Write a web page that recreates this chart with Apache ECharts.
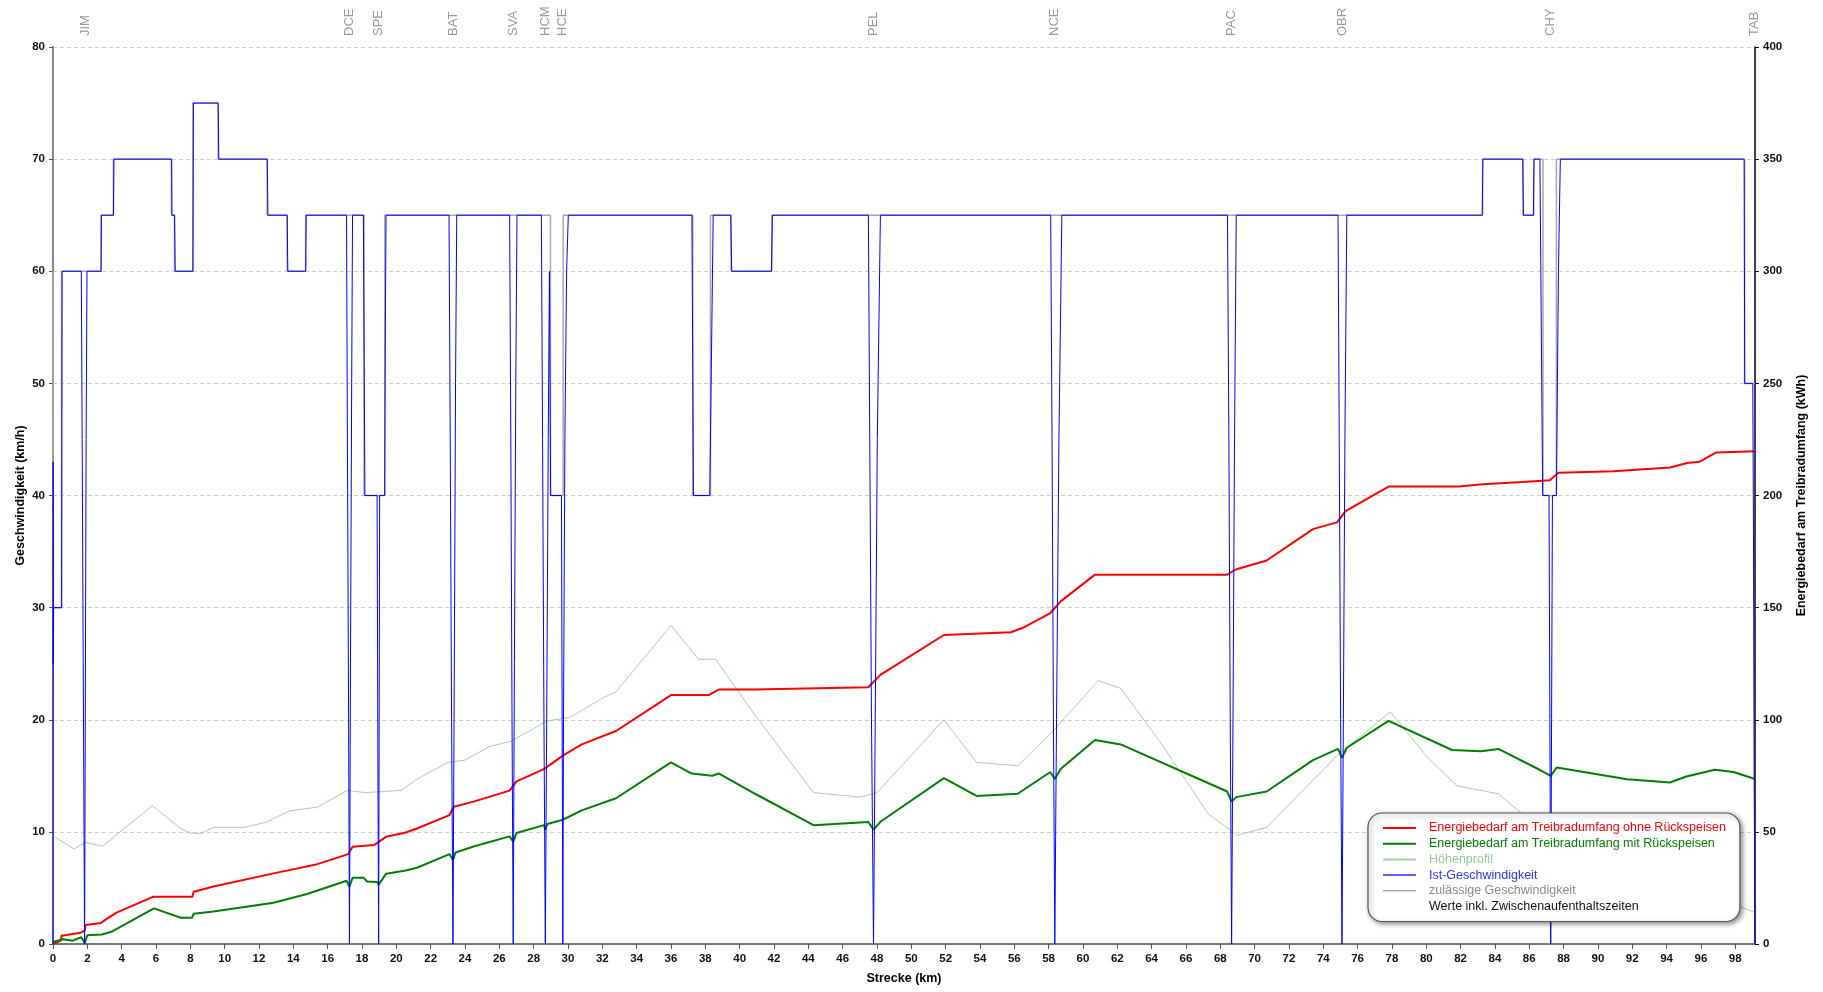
<!DOCTYPE html>
<html>
<head>
<meta charset="utf-8">
<script src="https://cdn.jsdelivr.net/npm/echarts@6/dist/echarts.min.js"></script>
<style>
  html, body { margin: 0; padding: 0; background: #fff; }
  #chart { width: 1823px; height: 992px; }
</style>
</head>
<body>
<div id="chart"></div>
<script>
// ---- Data (km, value) ----
const stationKm = [1.88, 17.27, 18.97, 23.3, 26.81, 28.68, 29.7, 47.8, 58.36, 68.66, 75.09, 87.25, 99.13];
const stationNames = ['JIM', 'DCE', 'SPE', 'BAT', 'SVA', 'HCM', 'HCE', 'PEL', 'NCE', 'PAC', 'OBR', 'CHY', 'TAB'];

const xTicksMax = 99.15;

// Ist-Geschwindigkeit (km/h)
const istGeschwindigkeit = [
  [0, 0], [0.01, 43], [0.02, 25], [0.04, 30], [0.5, 30], [0.53, 60],
  [1.65, 60], [1.70, 45], [1.76, 25], [1.84, 0], [1.88, 20], [1.93, 45], [1.98, 60],
  [2.8, 60], [2.82, 65], [3.52, 65], [3.55, 70], [6.91, 70], [6.93, 65], [7.08, 65], [7.12, 60],
  [8.15, 60], [8.18, 75], [9.62, 75], [9.66, 70], [12.48, 70], [12.52, 65], [13.64, 65], [13.68, 60],
  [14.72, 60], [14.75, 65],
  [17.1, 65], [17.15, 45], [17.22, 20], [17.27, 0], [17.33, 25], [17.4, 50], [17.45, 65],
  [18.08, 65], [18.17, 40], [18.88, 40], [18.93, 15], [18.97, 0], [19.0, 20], [19.03, 40],
  [19.32, 40], [19.36, 55], [19.4, 65],
  [23.07, 65], [23.14, 45], [23.22, 20], [23.3, 0], [23.38, 25], [23.45, 50], [23.52, 65],
  [26.6, 65], [26.67, 45], [26.74, 20], [26.81, 0], [26.88, 25], [26.96, 50], [27.03, 65],
  [28.45, 65], [28.52, 45], [28.6, 20], [28.68, 0], [28.76, 20], [28.85, 45], [28.92, 60], [28.99, 40],
  [29.62, 40], [29.66, 20], [29.7, 0], [29.74, 20], [29.82, 45], [29.92, 60], [30.02, 65],
  [37.22, 65], [37.31, 40], [38.26, 40], [38.46, 65], [39.48, 65], [39.54, 60], [41.85, 60], [41.91, 65],
  [47.5, 65], [47.58, 45], [47.68, 20], [47.8, 0], [47.9, 20], [48.02, 45], [48.2, 65],
  [58.12, 65], [58.2, 45], [58.28, 20], [58.36, 0], [58.46, 20], [58.6, 45], [58.77, 65],
  [68.42, 65], [68.5, 45], [68.58, 20], [68.66, 0], [68.74, 20], [68.83, 45], [68.93, 65],
  [74.86, 65], [74.93, 45], [75.01, 20], [75.09, 0], [75.17, 20], [75.26, 45], [75.37, 65],
  [83.26, 65], [83.3, 70], [85.62, 70], [85.66, 65], [86.24, 65], [86.28, 70], [86.62, 70], [86.7, 55], [86.78, 40],
  [87.15, 40], [87.2, 20], [87.25, 0], [87.3, 20], [87.35, 40], [87.58, 40], [87.7, 60], [87.81, 70],
  [98.52, 70], [98.55, 50], [99.02, 50], [99.06, 37], [99.1, 15], [99.15, 0]
];

// zulässige Geschwindigkeit (km/h)
const zulaessigeGeschwindigkeit = [
  [0, 60], [0.02, 60], [0.02, 30], [0.5, 30], [0.5, 60], [2.8, 60], [2.8, 65], [3.52, 65], [3.52, 70],
  [6.9, 70], [6.9, 65], [7.08, 65], [7.08, 60], [8.15, 60], [8.15, 75], [9.62, 75], [9.62, 70],
  [12.48, 70], [12.48, 65], [13.64, 65], [13.64, 60], [14.72, 60], [14.72, 65], [18.12, 65], [18.12, 40],
  [19.33, 40], [19.33, 65], [28.98, 65], [28.98, 40], [29.72, 40], [29.72, 65], [37.27, 65], [37.27, 40],
  [38.3, 40], [38.3, 65], [39.5, 65], [39.5, 60], [41.88, 60], [41.88, 65], [83.28, 65], [83.28, 70],
  [85.64, 70], [85.64, 65], [86.26, 65], [86.26, 70], [86.8, 70], [86.8, 40], [87.58, 40], [87.58, 70],
  [98.54, 70], [98.54, 50], [99.15, 50]
];

// Energiebedarf ohne Rückspeisen (kWh)
const energieOhneRueckspeisen = [
  [0, 0], [0.45, 1.5], [0.5, 3.7], [1.6, 5], [1.85, 6], [1.9, 8.5], [2.8, 9.4], [3.0, 10.5], [3.7, 14],
  [5.85, 21.1], [8.12, 21.1], [8.2, 23.3], [9.35, 25.6], [12.85, 31.5], [15.4, 35.6], [17.2, 40.1],
  [17.45, 43.4], [18.7, 44.1], [19.4, 47.8], [20.55, 49.7], [21.2, 51.5], [23.1, 57.5], [23.35, 61.2],
  [24.5, 63.5], [26.6, 68.4], [27.0, 72.5], [28.6, 78], [29.7, 84], [30.8, 89], [32.8, 95], [36.0, 111],
  [38.2, 111], [38.8, 113.5], [40.9, 113.5], [47.5, 114.5], [48.2, 120], [51.9, 137.8], [55.8, 139],
  [56.5, 141], [58.1, 147.6], [58.7, 152.8], [60.7, 164.7], [68.4, 164.7], [68.9, 167], [70.7, 171],
  [73.4, 185], [74.8, 188], [75.3, 193], [77.8, 204], [81.9, 204], [83.28, 205], [85.6, 206],
  [87.2, 206.8], [87.7, 210.2], [90.9, 210.8], [94.2, 212.5], [95.2, 214.5], [95.9, 215],
  [96.9, 219.2], [99.15, 219.7]
];

// Energiebedarf mit Rückspeisen (kWh)
const energieMitRueckspeisen = [
  [0, 0], [0.05, 1], [0.55, 2.1], [1.15, 1.5], [1.65, 3], [1.85, 0.4], [2.0, 3.9], [2.85, 4.2], [3.45, 5.6],
  [5.88, 15.9], [7.44, 11.7], [8.1, 11.7], [8.2, 13.5], [9.35, 14.5], [12.85, 18.4], [14.8, 22.3],
  [17.1, 28.2], [17.27, 25.6], [17.45, 29.5], [18.1, 29.5], [18.3, 27.9], [18.9, 27.6], [18.97, 26.5],
  [19.4, 31.3], [20.55, 32.8], [21.2, 34], [23.1, 40.1], [23.3, 37.4], [23.45, 40.8], [24.5, 43.5],
  [26.6, 48], [26.81, 45.6], [27.0, 49.5], [28.6, 53], [28.68, 51], [28.8, 53.5], [29.7, 55.4],
  [30.8, 59.6], [32.8, 65], [36.0, 81], [37.2, 76], [38.4, 75], [38.8, 76], [40.9, 67], [44.3, 53],
  [47.5, 54.4], [47.8, 51], [48.2, 54.5], [51.9, 74], [53.8, 66], [56.2, 67], [58.1, 76.7], [58.36, 73.6],
  [58.7, 78], [60.7, 91], [62.2, 89], [68.4, 68], [68.66, 63.5], [68.93, 65.5], [70.7, 68], [73.4, 82],
  [74.86, 87], [75.09, 83], [75.37, 87.5], [77.8, 99.5], [81.5, 86.5], [83.2, 86], [84.2, 87],
  [86.6, 77.7], [87.25, 75], [87.6, 78.7], [91.7, 73.5], [94.2, 72], [95.1, 74.6], [96.8, 77.7],
  [97.9, 76.7], [99.15, 73.6]
];

// Höhenprofil (in left-axis units)
const hoehenprofil = [
  [0, 9.65], [1.22, 8.47], [1.9, 9.06], [2.88, 8.73], [5.79, 12.33], [7.44, 10.3], [8.0, 9.9], [8.64, 9.86],
  [9.35, 10.4], [11.12, 10.4], [12.4, 10.85], [13.8, 11.88], [15.4, 12.2], [17.15, 13.7], [18.2, 13.5],
  [19.3, 13.6], [20.3, 13.7], [21.2, 14.7], [23.0, 16.2], [24.0, 16.4], [25.4, 17.6], [26.7, 18.1],
  [28.8, 19.9], [30.1, 20.2], [32.1, 22], [32.8, 22.5], [36.0, 28.4], [37.6, 25.4], [38.6, 25.4],
  [40.9, 20.4], [44.3, 13.5], [47.0, 13.1], [48.0, 13.5], [51.9, 20], [53.8, 16.2], [56.2, 15.9],
  [58.2, 18.9], [60.9, 23.5], [62.2, 22.8], [64.6, 17.8], [67.3, 11.6], [69.0, 9.7], [70.7, 10.4],
  [74.8, 16.8], [77.9, 20.7], [80.1, 16.6], [81.8, 14.1], [84.2, 13.4], [85.6, 11.6], [87.6, 8.7],
  [90.3, 7.3], [93.0, 4.5], [94.5, 2.0], [96.5, 2.8], [98.0, 3.5], [99.15, 2.8]
];

const FONT = '"Liberation Sans", Arial, sans-serif';

const chart = echarts.init(document.getElementById('chart'), null, { renderer: 'canvas' });

const stationData = stationKm.map((k, i) => ({ value: [k, 80], name: stationNames[i] }));

const legendNames = [
  'Energiebedarf am Treibradumfang ohne Rückspeisen',
  'Energiebedarf am Treibradumfang mit Rückspeisen',
  'Höhenprofil',
  'Ist-Geschwindigkeit',
  'zulässige Geschwindigkeit',
  'Werte inkl. Zwischenaufenthaltszeiten'
];

const option = {
  animation: false,
  backgroundColor: '#fff',
  grid: { left: 53, right: 68, top: 47, bottom: 48, containLabel: false },
  xAxis: {
    type: 'value', min: 0, max: xTicksMax, interval: 2,
    name: 'Strecke (km)', nameLocation: 'middle', nameGap: 28,
    nameTextStyle: { fontFamily: FONT, fontSize: 12.5, fontWeight: 'bold', color: '#000' },
    axisLine: { show: true, onZero: false, lineStyle: { color: '#777', width: 2 } },
    axisTick: { show: true, length: 5, lineStyle: { color: '#555' } },
    axisLabel: { fontFamily: FONT, fontSize: 11.5, fontWeight: 'bold', color: '#111', margin: 9, showMaxLabel: false },
    splitLine: { show: false }
  },
  yAxis: [
    {
      type: 'value', min: 0, max: 80, interval: 10, position: 'left',
      name: 'Geschwindigkeit (km/h)', nameLocation: 'middle', nameGap: 26, nameRotate: 90,
      nameMoveOverlap: false,
      nameTextStyle: { fontFamily: FONT, fontSize: 12.5, fontWeight: 'bold', color: '#000' },
      axisLine: { show: true, onZero: false, lineStyle: { color: '#888', width: 2 } },
      axisTick: { show: true, length: 4, lineStyle: { color: '#555' } },
      axisLabel: { fontFamily: FONT, fontSize: 11.5, fontWeight: 'bold', color: '#111', margin: 8 },
      splitLine: { show: true, lineStyle: { color: '#cfcfcf', type: [4, 3], width: 1 } }
    },
    {
      type: 'value', min: 0, max: 400, interval: 50, position: 'right',
      name: 'Energiebedarf am Treibradumfang (kWh)', nameLocation: 'middle', nameGap: 40, nameRotate: 90,
      nameTextStyle: { fontFamily: FONT, fontSize: 12.5, fontWeight: 'bold', color: '#000' },
      axisLine: { show: true, onZero: false, lineStyle: { color: '#000', width: 1.5 } },
      axisTick: { show: true, length: 4, lineStyle: { color: '#000' } },
      axisLabel: { fontFamily: FONT, fontSize: 11.5, fontWeight: 'bold', color: '#111', margin: 8 },
      splitLine: { show: false }
    }
  ],
  legend: {
    orient: 'vertical', left: 1368, top: 813, z: 20,
    padding: [8, 14, 8, 14],
    itemGap: 1.7, itemWidth: 33, itemHeight: 14,
    backgroundColor: '#fff', borderColor: '#555', borderWidth: 1.2, borderRadius: 14,
    shadowBlur: 5, shadowColor: 'rgba(0,0,0,0.45)', shadowOffsetX: 2, shadowOffsetY: 2,
    selectedMode: false,
    itemStyle: { opacity: 0 },
    textStyle: { fontFamily: FONT, fontSize: 12.5, lineHeight: 14, padding: [0, 0, 0, 8] },
    data: [
      { name: legendNames[0], textStyle: { color: '#ff0000' } },
      { name: legendNames[1], textStyle: { color: '#008000' } },
      { name: legendNames[2], textStyle: { color: '#99c499' } },
      { name: legendNames[3], textStyle: { color: '#3030ff' }, lineStyle: { color: '#6060ff' } },
      { name: legendNames[4], textStyle: { color: '#8a8a8a' }, lineStyle: { color: '#808080', width: 1 } },
      { name: legendNames[5], textStyle: { color: '#111' }, icon: 'rect',
        itemStyle: { color: 'rgba(0,0,0,0)', borderWidth: 0, opacity: 0 } }
    ]
  },
  series: [
    {
      name: 'Höhenprofil', type: 'line', yAxisIndex: 0, data: hoehenprofil, symbol: 'none',
      lineStyle: { color: '#a8d2a8', width: 1 }, itemStyle: { color: '#a8d2a8' }, z: 1, silent: true
    },
    {
      name: 'zulässige Geschwindigkeit', type: 'line', yAxisIndex: 0, data: zulaessigeGeschwindigkeit, symbol: 'none',
      lineStyle: { color: '#a8a8a8', width: 1.5 }, itemStyle: { color: '#a8a8a8' }, z: 2, silent: true
    },
    {
      name: legendNames[0], type: 'line', yAxisIndex: 1, data: energieOhneRueckspeisen, symbol: 'none',
      lineStyle: { color: '#ff0000', width: 2 }, itemStyle: { color: '#ff0000' }, z: 3, silent: true
    },
    {
      name: legendNames[1], type: 'line', yAxisIndex: 1, data: energieMitRueckspeisen, symbol: 'none',
      lineStyle: { color: '#008000', width: 2 }, itemStyle: { color: '#008000' }, z: 3, silent: true
    },
    {
      name: 'Ist-Geschwindigkeit', type: 'line', yAxisIndex: 0, data: istGeschwindigkeit, symbol: 'none',
      lineStyle: { color: '#0000ff', width: 1 }, itemStyle: { color: '#0000ff' }, z: 4, silent: true
    },
    {
      name: legendNames[5], type: 'line', yAxisIndex: 0, data: [], symbol: 'none',
      lineStyle: { color: 'rgba(0,0,0,0)', width: 0 }, itemStyle: { color: 'rgba(0,0,0,0)' }
    },
    {
      name: 'Stationen', type: 'scatter', yAxisIndex: 0, data: stationData,
      symbolSize: 0, silent: true, clip: false, z: 5,
      label: {
        show: true, formatter: '{b}', position: 'top', distance: 11, rotate: 90,
        align: 'left', verticalAlign: 'middle',
        color: '#808080', fontFamily: FONT, fontSize: 13
      }
    }
  ]
};

chart.setOption(option);
</script>
</body>
</html>
